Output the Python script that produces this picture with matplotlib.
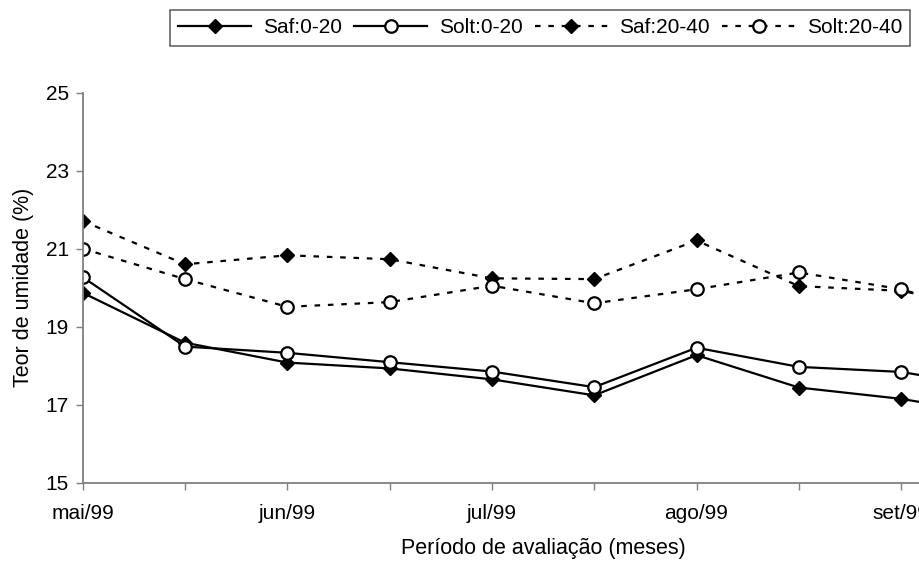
import matplotlib
matplotlib.use("Agg")
import matplotlib.pyplot as plt

plt.rcParams["font.family"] = ["Liberation Sans", "DejaVu Sans"]

# dados (o último ponto fica fora do recorte da figura)
periodos = ["mai/99", "", "jun/99", "", "jul/99", "", "ago/99", "", "set/99", ""]
saf_0_20 = [19.87, 18.59, 18.08, 17.93, 17.65, 17.24, 18.27, 17.44, 17.15, 16.71]
solt_0_20 = [20.27, 18.49, 18.33, 18.09, 17.85, 17.45, 18.46, 17.97, 17.84, 17.40]
saf_20_40 = [21.71, 20.60, 20.83, 20.73, 20.24, 20.22, 21.21, 20.04, 19.92, 19.40]
solt_20_40 = [21.00, 20.22, 19.51, 19.63, 20.05, 19.60, 19.96, 20.39, 19.96, 19.20]

COR_EIXO = "#808080"

fig = plt.figure(figsize=(9.19, 5.62), dpi=100)
# eixo mais largo que a figura: o lado direito fica cortado como no original
ax = fig.add_axes([0.09, 0.1411, 1.0019, 0.694])

x = list(range(len(periodos)))

estilo_diamante = dict(marker="D", markersize=7.5, markerfacecolor="black",
                       markeredgecolor="black")
estilo_circulo = dict(marker="o", markersize=9, markerfacecolor="white",
                      markeredgecolor="black", markeredgewidth=1.6)

ax.plot(x, saf_0_20, color="black", lw=1.6, label="Saf:0-20", **estilo_diamante)
ax.plot(x, solt_0_20, color="black", lw=1.6, label="Solt:0-20", **estilo_circulo)
ax.plot(x, saf_20_40, color="black", lw=1.6, linestyle=(0, (2.5, 3.5)),
        label="Saf:20-40", **estilo_diamante)
ax.plot(x, solt_20_40, color="black", lw=1.6, linestyle=(0, (2.5, 3.5)),
        label="Solt:20-40", **estilo_circulo)

ax.set_xlim(0, 9)
ax.set_ylim(15, 25)
ax.set_yticks([15, 17, 19, 21, 23, 25])
ax.set_xticks(x)
ax.set_xticklabels(periodos)

for lado in ["top", "right"]:
    ax.spines[lado].set_visible(False)
for lado in ["left", "bottom"]:
    ax.spines[lado].set_color(COR_EIXO)
    ax.spines[lado].set_linewidth(1.3)

ax.tick_params(axis="both", colors=COR_EIXO, labelcolor="black",
               labelsize=15, length=5, width=1)
ax.tick_params(axis="x", pad=10)
ax.tick_params(axis="y", pad=5)

ax.set_ylabel("Teor de umidade (%)", fontsize=15.5, labelpad=8)
ax.set_xlabel("Período de avaliação (meses)", fontsize=15.5, labelpad=11)

leg = fig.legend(loc="upper left", bbox_to_anchor=(170 / 919, 1 - 10 / 562),
                 ncol=4, fontsize=15, frameon=True, fancybox=False,
                 handlelength=3.5, handletextpad=0.55, columnspacing=0.6,
                 borderpad=0.4, borderaxespad=0)
leg.get_frame().set_edgecolor("#404040")
leg.get_frame().set_linewidth(1.2)

fig.savefig("out.png", dpi=100)
